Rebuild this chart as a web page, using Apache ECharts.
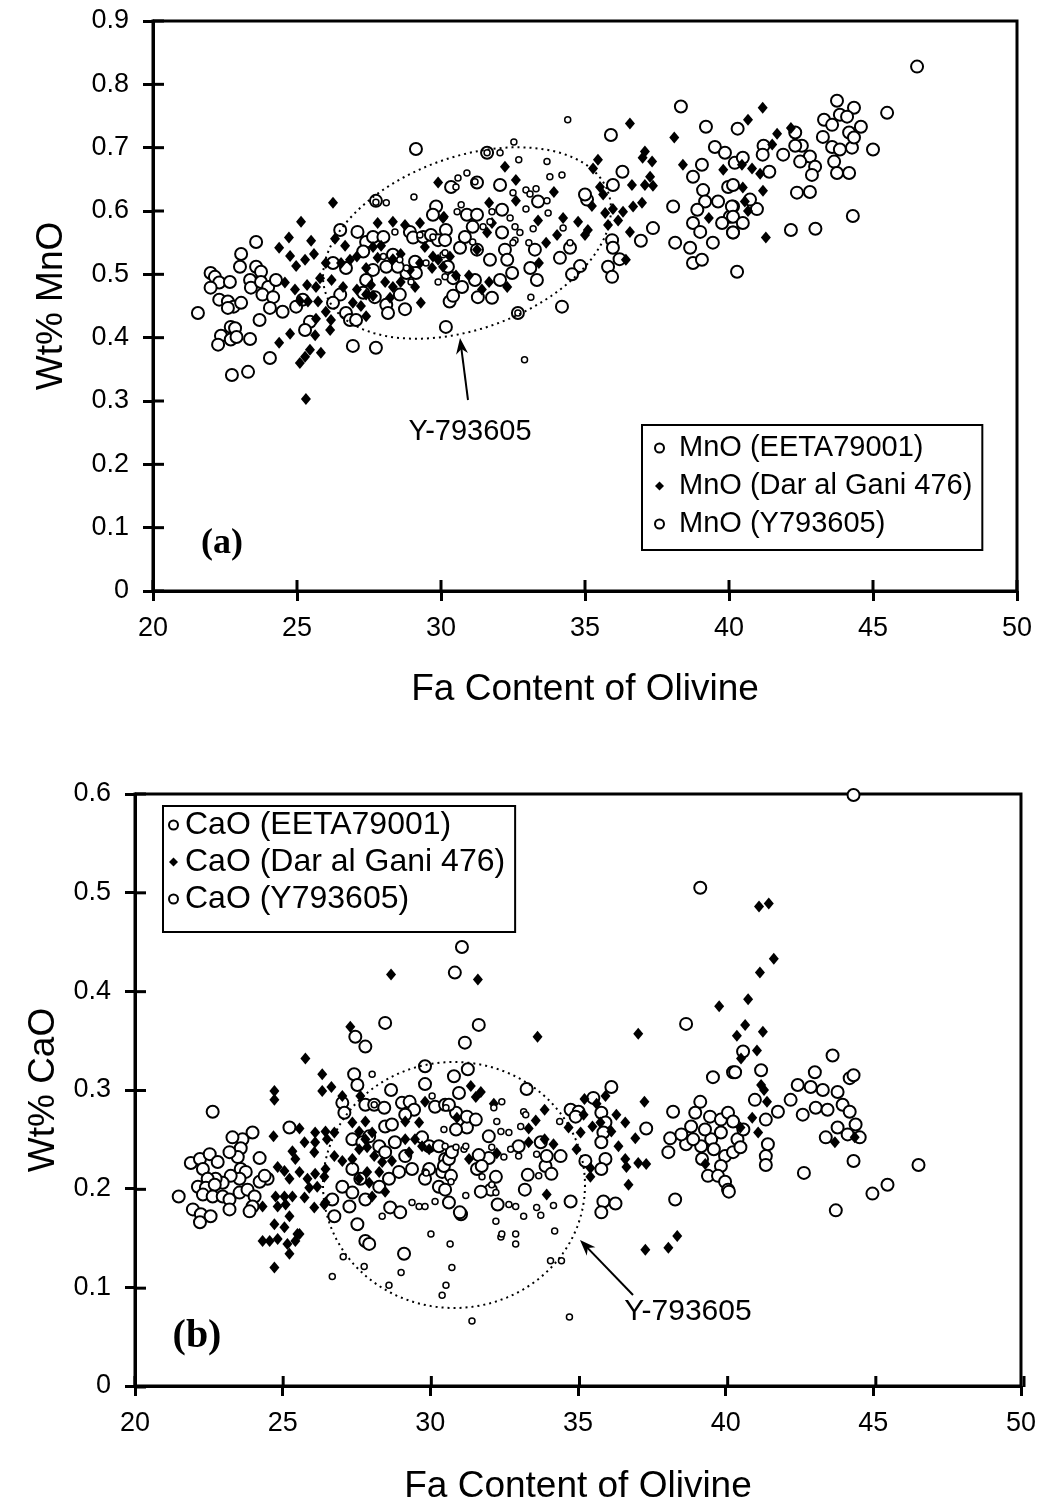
<!DOCTYPE html>
<html>
<head>
<meta charset="utf-8">
<script src="https://cdn.jsdelivr.net/npm/echarts@6/dist/echarts.min.js"></script>
<style>html,body{margin:0;padding:0;background:#fff}#c{width:1039px;height:1506px}</style>
</head>
<body>
<div id="c"></div>
<script>
// ---------- DATA (Fa content, wt%) ----------
const xTicks = { min: 20, max: 50, interval: 5 };
const yTicksMnO = { min: 0, max: 0.9, interval: 0.1 };
const yTicksCaO = { min: 0, max: 0.6, interval: 0.1 };

const namesMnO = ['MnO (EETA79001)', 'MnO (Dar al Gani 476)', 'MnO (Y793605)'];
const namesCaO = ['CaO (EETA79001)', 'CaO (Dar al Gani 476)', 'CaO (Y793605)'];

const mnoEETA = [
[29.13,0.698],[23.58,0.551],[23.06,0.532],[23.02,0.512],[22.0,0.502],[22.15,0.496],[22.3,0.487],[22.67,0.488],[22.0,0.479],[22.3,0.46],[22.6,0.457],[22.8,0.449],[23.06,0.455],[22.6,0.447],[23.37,0.491],[23.58,0.512],[23.75,0.504],[23.4,0.479],[23.75,0.488],[24.0,0.48],[24.27,0.491],[23.8,0.468],[24.17,0.464],[24.06,0.447],[24.5,0.441],[23.7,0.428],[22.7,0.417],[22.85,0.415],[22.36,0.403],[22.26,0.389],[22.7,0.397],[22.9,0.401],[23.37,0.398],[21.56,0.439],[24.06,0.368],[23.3,0.346],[22.74,0.341],[26.5,0.570],[27.1,0.567],[27.74,0.616],[26.94,0.387],[27.74,0.384],[28.75,0.445],[30.17,0.417],[30.35,0.638],[29.83,0.607],
[27.4,0.551],[27.64,0.559],[28.0,0.559],[27.3,0.536],[27.64,0.507],[28.1,0.512],[27.4,0.491],[27.3,0.471],[27.7,0.464],[28.1,0.452],[28.57,0.468],[28.16,0.439],[28.92,0.567],[29.03,0.558],[29.38,0.559],[29.65,0.562],[29.9,0.554],[29.72,0.594],[30.17,0.570],[29.1,0.520],[28.8,0.502],[29.13,0.502],[28.33,0.531],[28.5,0.512],[30.24,0.512],[30.3,0.457],[26.7,0.439],[26.84,0.428],[27.05,0.428],[26.5,0.468],[26.25,0.455],[25.2,0.46],[24.97,0.449],[25.45,0.425],[25.28,0.412],[26.7,0.51],[26.25,0.518],
[38.33,0.765],[35.9,0.720],[39.2,0.733],[40.3,0.730],[36.3,0.662],[35.97,0.641],[35.07,0.618],[37.36,0.573],[36.94,0.553],[35.94,0.554],[35.97,0.542],[35.8,0.512],[35.94,0.496],[36.2,0.524],[34.83,0.513],[34.55,0.50],[34.13,0.526],[34.48,0.542],[33.26,0.539],[33.1,0.51],[33.33,0.491],[32.47,0.502],[32.05,0.491],[31.77,0.463],[31.28,0.464],[30.42,0.466],[32.67,0.439],[31.6,0.692],[32.05,0.641],[31.25,0.645],[32.12,0.602],[32.12,0.566],[32.22,0.539],[32.3,0.523],[31.7,0.523],[31.25,0.539],[30.66,0.542],[30.83,0.559],[30.9,0.594],[31.25,0.594],[31.1,0.575],[30.14,0.554],[30.42,0.494],[30.73,0.48],[31.18,0.491],[33.37,0.615],[34.2,0.449],[35.0,0.626],
[38.75,0.654],[39.06,0.673],[39.51,0.701],[39.86,0.692],[39.1,0.633],[39.17,0.615],[38.9,0.602],[38.75,0.581],[39.0,0.567],[38.65,0.542],[38.75,0.518],[39.06,0.523],[39.44,0.55],[39.62,0.615],[39.97,0.638],[40.14,0.607],[40.03,0.591],[39.76,0.581],[40.14,0.566],[38.06,0.607],[38.13,0.55],[40.28,0.504],
[46.53,0.828],[43.75,0.774],[44.34,0.763],[45.49,0.755],[43.3,0.744],[43.58,0.736],[43.85,0.752],[44.1,0.749],[44.58,0.733],[43.26,0.717],[43.58,0.701],[43.85,0.697],[44.17,0.724],[44.27,0.7],[44.34,0.716],[43.65,0.678],[43.75,0.66],[44.17,0.66],[45.0,0.697],[44.3,0.592],[42.81,0.686],[42.47,0.678],[42.53,0.703],[42.3,0.703],[42.99,0.67],[42.88,0.657],[42.36,0.629],[42.81,0.630],[42.15,0.570],[43.0,0.572],[41.2,0.703],[41.17,0.689],[41.4,0.662],[41.88,0.689],[40.2,0.676],[40.48,0.684],[40.14,0.641],[40.1,0.607],[40.14,0.591],[40.14,0.566],[40.48,0.581],[40.97,0.603],[40.73,0.618],[42.3,0.724]
];

const mnoDaG = [
[26.25,0.613],[25.14,0.583],[24.72,0.558],[25.49,0.553],[24.38,0.542],[24.76,0.529],[25.28,0.523],[25.59,0.532],[24.97,0.513],[24.58,0.487],[24.93,0.476],[25.35,0.483],[25.1,0.458],[25.38,0.457],[25.73,0.457],[26.0,0.518],[25.8,0.494],[25.66,0.48],[26.2,0.491],[26.32,0.556],[26.53,0.518],[26.67,0.545],[26.84,0.523],[26.6,0.480],[27.08,0.476],[27.4,0.468],[26.94,0.455],[27.22,0.450],[27.4,0.434],[26.0,0.441],[26.18,0.428],[25.66,0.430],[24.76,0.406],[25.63,0.404],[24.38,0.392],[25.45,0.381],[25.83,0.376],[25.28,0.370],[25.1,0.360],[25.31,0.303],[26.15,0.412],[27.08,0.528],[27.4,0.51],[27.8,0.581],[28.33,0.583],[28.75,0.578],[27.64,0.543],[27.92,0.545],[28.33,0.524],[28.6,0.532],[27.8,0.526],[27.57,0.483],[28.06,0.488],[28.33,0.48],[27.64,0.466],[28.23,0.463],[29.27,0.581],[29.44,0.543],[29.72,0.528],[29.27,0.518],[28.92,0.507],[28.6,0.488],[29.1,0.480],[29.3,0.455],[29.9,0.645],[30.1,0.591],[29.69,0.510],[29.9,0.523],[30.07,0.512],[30.31,0.528],
[36.56,0.738],[38.1,0.716],[38.4,0.673],[35.45,0.681],[35.28,0.667],[37.08,0.694],[37.33,0.678],[37.0,0.684],[37.26,0.654],[37.08,0.641],[37.36,0.64],[36.63,0.641],[36.98,0.613],[36.67,0.607],[35.52,0.638],[35.63,0.626],[35.24,0.608],[35.7,0.597],[35.97,0.603],[36.32,0.599],[36.15,0.585],[35.8,0.578],[36.56,0.567],[36.42,0.523],[35.1,0.570],[35.0,0.562],[34.76,0.583],[34.24,0.589],[34.03,0.562],[33.65,0.55],[33.37,0.585],[33.4,0.518],[33.92,0.63],[32.6,0.649],[32.6,0.616],[32.22,0.67],[31.67,0.613],[31.77,0.581],[31.6,0.566],[31.25,0.539],[30.52,0.498],[30.97,0.498],[31.67,0.488],[32.3,0.48],[31.42,0.476],[30.07,0.589],[39.8,0.665],[39.3,0.589],
[41.17,0.763],[40.66,0.744],[42.15,0.731],[41.67,0.722],[41.5,0.705],[40.45,0.673],[40.8,0.667],[41.08,0.659],[40.48,0.637],[41.18,0.632],[40.55,0.615],[40.66,0.600],[41.28,0.558]
];

const mnoY = [
[34.4,0.744],[32.53,0.709],[32.05,0.692],[32.7,0.681],[33.68,0.678],[33.78,0.654],[34.2,0.657],[30.9,0.66],[30.59,0.652],[30.52,0.638],[31.18,0.646],[32.5,0.629],[32.95,0.633],[33.09,0.627],[33.3,0.635],[33.68,0.616],[33.72,0.597],[32.95,0.603],[30.7,0.61],[30.56,0.599],[31.77,0.599],[31.46,0.575],[31.7,0.583],[32.4,0.589],[32.57,0.575],[32.74,0.566],[32.57,0.554],[32.5,0.55],[33.2,0.572],[33.05,0.55],[34.24,0.573],[34.48,0.55],[33.12,0.464],[32.9,0.365],[30.07,0.531],[30.14,0.496],[31.1,0.551],
[29.06,0.622],[28.1,0.613],[29.9,0.488],[30.14,0.534],[28.4,0.567],[29.27,0.562],[29.72,0.559],[28.0,0.528],[28.57,0.523],[29.48,0.518],[28.96,0.488],[28.8,0.510],[31.6,0.692],[32.67,0.439],[27.74,0.614]
];

const caoEETA = [
[28.47,0.368],[27.46,0.354],[27.8,0.344],[27.42,0.316],[27.53,0.305],[28.67,0.300],[29.82,0.324],[29.82,0.306],[22.63,0.278],[27.02,0.287],[27.09,0.277],[27.8,0.285],[28.1,0.285],[28.44,0.282],[29.04,0.287],[29.3,0.288],[29.45,0.280],[29.15,0.275],[30.16,0.283],[30.5,0.285],[23.98,0.257],[23.64,0.250],[23.3,0.252],[23.58,0.241],[23.48,0.232],[21.89,0.226],[22.2,0.230],[22.53,0.235],[22.8,0.227],[22.3,0.220],[23.2,0.237],[24.22,0.231],[23.58,0.220],[23.75,0.217],[23.54,0.210],[23.24,0.213],[22.97,0.206],[22.73,0.210],[22.46,0.210],[22.13,0.202],[22.4,0.201],[22.7,0.204],[22.3,0.194],[22.63,0.192],[22.97,0.192],[23.2,0.189],[23.54,0.196],[23.81,0.199],[24.05,0.192],[21.48,0.192],[21.96,0.179],[22.23,0.174],[22.56,0.172],[23.2,0.179],[23.98,0.182],[23.88,0.177],[22.2,0.166],[24.49,0.210],[25.23,0.262],[26.68,0.189],[26.75,0.172],[27.26,0.182],[27.53,0.164],[27.8,0.147],[27.93,0.144],[28.64,0.181],[28.98,0.176],[29.11,0.134],
[27.36,0.250],[27.7,0.247],[27.93,0.253],[28.47,0.263],[28.7,0.265],[28.27,0.243],[28.47,0.237],[28.8,0.247],[29.15,0.233],[29.38,0.220],[28.94,0.217],[27.36,0.220],[27.63,0.210],[27.02,0.202],[27.36,0.196],[27.8,0.189],[28.27,0.202],[28.6,0.210],[29.82,0.210],[29.72,0.252],[29.96,0.243],[30.29,0.243],[30.5,0.230],[30.4,0.217],[29.96,0.220],[30.29,0.202],[30.5,0.199],[30.63,0.186],[24.22,0.207],[24.39,0.213],[31.04,0.174],
[31.07,0.445],[30.83,0.419],[31.64,0.366],[31.17,0.348],[38.66,0.367],[31.27,0.321],[30.8,0.314],[33.26,0.301],[36.13,0.303],[39.57,0.313],[40.25,0.318],[38.22,0.278],[34.75,0.280],[35.02,0.278],[35.52,0.292],[35.79,0.277],[35.93,0.267],[35.86,0.257],[35.79,0.247],[37.31,0.261],[38.12,0.251],[38.06,0.237],[34.92,0.273],[35.25,0.228],[35.93,0.230],[35.79,0.220],[34.75,0.187],[35.86,0.187],[36.27,0.185],[35.79,0.176],[38.29,0.189],[34.41,0.233],[33.9,0.223],[34.1,0.215],[33.3,0.214],[33.2,0.199],[31.0,0.176],[32.28,0.184],[32.05,0.199],[31.71,0.197],[32.22,0.212],[31.98,0.231],[31.64,0.234],[31.58,0.220],[31.74,0.223],[31.98,0.253],[31.24,0.262],[30.87,0.260],[30.87,0.277],[31.24,0.273],[31.54,0.270],[30.97,0.297],[30.63,0.285],[30.46,0.223],[30.63,0.230],[30.73,0.237],[30.7,0.213],[32.99,0.243],[33.74,0.247],[33.94,0.233],
[39.14,0.288],[38.97,0.277],[39.47,0.273],[39.84,0.270],[40.08,0.277],[40.25,0.268],[38.83,0.263],[38.66,0.245],[39.17,0.243],[39.51,0.250],[39.84,0.257],[39.98,0.233],[40.25,0.237],[39.84,0.223],[39.4,0.213],[39.74,0.213],[39.98,0.207],[40.08,0.199],
[38.9,0.250],[39.3,0.260],[39.6,0.240],[40.4,0.250],[40.6,0.260],[40.5,0.242],[39.2,0.230],[38.5,0.255],
[40.11,0.197],[43.73,0.178],[44.97,0.195],[45.48,0.204],[46.53,0.224],[42.65,0.216],[44.33,0.228],[41.36,0.233],[41.36,0.224],
[44.33,0.599],[40.59,0.339],[40.32,0.318],[41.2,0.320],[43.62,0.335],[43.02,0.318],[44.2,0.312],[44.33,0.315],[42.44,0.305],[42.88,0.303],[43.29,0.300],[43.79,0.298],
[41.36,0.270],[41.77,0.278],[42.2,0.290],[42.61,0.275],[43.05,0.282],[43.45,0.280],[43.96,0.285],[44.2,0.278],[44.4,0.265],[44.54,0.252],[44.13,0.255],[43.39,0.252],[43.79,0.262],[41.43,0.245],[40.99,0.290],[39.14,0.505]
];

const caoDaG = [
[28.67,0.417],[27.29,0.364],[25.77,0.332],[26.34,0.316],[26.34,0.299],[26.65,0.303],[24.72,0.299],[24.72,0.290],[27.02,0.294],[27.63,0.294],[24.69,0.253],[29.82,0.288],[27.36,0.267],[27.8,0.268],[27.59,0.258],[28.03,0.257],[27.8,0.250],[25.57,0.261],[26.1,0.257],[26.45,0.258],[26.75,0.257],[25.74,0.247],[26.1,0.247],[26.5,0.250],[25.33,0.238],[26.07,0.237],[24.83,0.222],[25.06,0.218],[25.43,0.230],[25.23,0.210],[25.57,0.217],[25.84,0.210],[26.1,0.215],[26.41,0.212],[25.9,0.201],[26.17,0.202],[26.45,0.220],[24.76,0.192],[25.06,0.192],[25.33,0.192],[25.74,0.191],[26.07,0.181],[26.41,0.184],[24.32,0.182],[24.83,0.182],[25.1,0.184],[24.72,0.164],[25.06,0.161],[25.23,0.172],[25.57,0.154],[24.32,0.147],[24.56,0.147],[24.83,0.149],[25.16,0.144],[25.43,0.147],[25.23,0.134],[26.75,0.233],[27.02,0.228],[27.36,0.230],[27.59,0.240],[27.86,0.242],[28.1,0.233],[28.37,0.227],[28.7,0.228],[27.86,0.217],[28.27,0.217],[27.59,0.210],[27.93,0.206],[28.47,0.197],[28.03,0.192],[29.15,0.268],[29.62,0.267],[29.15,0.250],[29.48,0.250],[29.28,0.237],[29.72,0.243],[29.96,0.240],[26.45,0.186],
[24.72,0.120],[25.5,0.154],
[31.61,0.412],[33.63,0.354],[37.04,0.357],[39.78,0.385],[37.25,0.288],[31.37,0.304],[31.71,0.298],[31.54,0.293],[32.15,0.286],[30.9,0.272],[33.87,0.280],[33.57,0.269],[33.33,0.261],[33.87,0.250],[34.17,0.245],[33.33,0.247],[32.25,0.236],[31.31,0.230],[33.94,0.194],[35.22,0.291],[35.63,0.286],[35.93,0.294],[35.19,0.275],[35.49,0.263],[35.76,0.267],[36.13,0.258],[36.6,0.267],[36.3,0.275],[34.68,0.262],[35.09,0.257],[36.94,0.251],[36.37,0.243],[36.6,0.230],[36.64,0.222],[37.04,0.226],[37.31,0.225],[35.42,0.221],[35.42,0.212],[36.71,0.204],[34.95,0.240],[39.31,0.225],[37.28,0.138],[38.06,0.140],[38.36,0.152],
[41.13,0.486],[41.46,0.489],[41.63,0.433],[41.16,0.419],[40.76,0.392],[40.38,0.355],[40.66,0.366],[41.26,0.359],[41.06,0.340],[40.52,0.332],
[40.5,0.262],[41.1,0.257],[41.4,0.288],[40.9,0.272],[41.3,0.300],[43.7,0.247],[44.37,0.252],[41.2,0.305]
];

const caoY = [
[28.03,0.316],[28.1,0.285],[30.06,0.294],[29.82,0.217],[30.16,0.187],[29.38,0.186],[29.62,0.182],[29.82,0.182],[28.37,0.172],[30.02,0.154],[30.67,0.144],[30.46,0.260],[30.5,0.243],
[30.73,0.120],[30.53,0.102],[30.4,0.092],[29.01,0.115],[28.6,0.102],[27.76,0.121],[27.05,0.131],[26.68,0.111],[31.41,0.066],[31.2,0.193],[32.39,0.151],[32.42,0.154],[32.89,0.154],[32.89,0.144],[32.22,0.167],[32.66,0.184],[32.89,0.182],[31.75,0.212],[32.08,0.204],[29.86,0.216],
[34.21,0.157],[34.07,0.127],[34.44,0.127],[34.71,0.070],[33.6,0.181],[33.74,0.173],[33.16,0.172],[34.17,0.183],
[32.42,0.288],[32.15,0.282],[32.39,0.258],[32.66,0.257],[33.06,0.263],[33.16,0.278],[33.23,0.275],[32.25,0.268],[32.08,0.242],[32.72,0.240],[32.99,0.233],[32.49,0.232],[33.6,0.235],[33.67,0.213],[32.22,0.196],[34.38,0.268],[30.53,0.282],[30.87,0.242],[31.14,0.240],[30.7,0.207],[31.2,0.243]
];

// ---------- CHART ----------
const FONT = "'Liberation Sans', Arial, Helvetica, sans-serif";
const SERIF = "'Liberation Serif', 'Times New Roman', serif";
const W = 1039, H = 1506;
const GA = { left: 153, right: 22, top: 21, bottom: 915 };
const GB = { left: 135, right: 15, top: 794, bottom: 119 };
const chart = echarts.init(document.getElementById('c'), null, { renderer: 'canvas', width: W, height: H });

function mkX(gi, gap) {
  return {
    type: 'value', gridIndex: gi, position: 'bottom',
    min: xTicks.min, max: xTicks.max, interval: xTicks.interval,
    axisLine: { show: true, onZero: false, lineStyle: { color: '#000', width: 3 } },
    axisTick: { show: true, inside: false, length: 10, lineStyle: { color: '#000', width: 3 } },
    axisLabel: { show: true, color: '#000', fontSize: 27, fontFamily: FONT, margin: 24 },
    splitLine: { show: false },
    name: 'Fa Content of Olivine', nameLocation: 'middle', nameGap: gap,
    nameTextStyle: { color: '#000', fontSize: 37, fontFamily: FONT }
  };
}
function mkY(gi, t, name, gap) {
  return {
    type: 'value', gridIndex: gi, position: 'left',
    min: t.min, max: t.max, interval: t.interval,
    axisLine: { show: true, onZero: false, lineStyle: { color: '#000', width: 3 } },
    axisTick: { show: true, inside: false, length: 10, lineStyle: { color: '#000', width: 3 } },
    axisLabel: { show: true, color: '#000', fontSize: 27, fontFamily: FONT, margin: 24 },
    splitLine: { show: false },
    name, nameLocation: 'middle', nameGap: gap,
    nameTextStyle: { color: '#000', fontSize: 37, fontFamily: FONT }
  };
}
function sOpen(name, data, xi, yi) {
  return { type: 'scatter', name, data, xAxisIndex: xi, yAxisIndex: yi, symbol: 'circle', symbolSize: 12, z: 2,
    itemStyle: { color: '#fff', borderColor: '#000', borderWidth: 2, opacity: 1 }, emphasis: { disabled: true } };
}
function sDia(name, data, xi, yi) {
  return { type: 'scatter', name, data, xAxisIndex: xi, yAxisIndex: yi, symbol: 'diamond', symbolSize: [10, 12], z: 3,
    itemStyle: { color: '#000', opacity: 1 }, emphasis: { disabled: true } };
}
function sSmall(name, data, xi, yi) {
  return { type: 'scatter', name, data, xAxisIndex: xi, yAxisIndex: yi, symbol: 'circle', symbolSize: 6, z: 4,
    itemStyle: { color: '#fff', borderColor: '#000', borderWidth: 1.5, opacity: 1 }, emphasis: { disabled: true } };
}

function ellipsePts(cx, cy, rx, ry, deg) {
  const a = deg * Math.PI / 180, pts = [];
  for (let i = 0; i <= 180; i++) {
    const t = i / 180 * 2 * Math.PI;
    const ex = rx * Math.cos(t), ey = ry * Math.sin(t);
    pts.push([cx + ex * Math.cos(a) + ey * Math.sin(a), cy - ex * Math.sin(a) + ey * Math.cos(a)]);
  }
  return pts;
}
function arrow(x1, y1, x2, y2) {
  const L = Math.hypot(x2 - x1, y2 - y1), dx = (x2 - x1) / L, dy = (y2 - y1) / L;
  const len = 16, w = 12, nx = -dy, ny = dx;
  const bx = x2 - dx * len, by = y2 - dy * len;
  return [
    { type: 'line', shape: { x1, y1, x2: x2 - dx * 6, y2: y2 - dy * 6 }, style: { stroke: '#000', lineWidth: 2 }, z: 10 },
    { type: 'polygon', shape: { points: [[x2, y2], [bx + nx * w / 2, by + ny * w / 2], [x2 - dx * len * 0.7, y2 - dy * len * 0.7], [bx - nx * w / 2, by - ny * w / 2]] },
      style: { fill: '#000' }, z: 10 }
  ];
}
// Inner half of the crossing tick marks (axis decoration), drawn as filled bars from the grid layout.
function innerTicks(g, yt) {
  const left = g.left, right = W - g.right, top = g.top, bottom = H - g.bottom;
  const els = [];
  const nx = Math.round((xTicks.max - xTicks.min) / xTicks.interval);
  for (let i = 0; i <= nx; i++) {
    const px = left + (right - left) * i / nx;
    els.push({ type: 'rect', shape: { x: px - 1.5, y: bottom - 11, width: 3, height: 11 }, style: { fill: '#000' }, z: 11, silent: true });
  }
  const ny = Math.round((yt.max - yt.min) / yt.interval);
  for (let i = 0; i <= ny; i++) {
    const py = bottom - (bottom - top) * i / ny;
    els.push({ type: 'rect', shape: { x: left, y: py - 1.5, width: 11, height: 3 }, style: { fill: '#000' }, z: 11, silent: true });
  }
  return els;
}

const legendBase = {
  orient: 'vertical', itemWidth: 9, itemHeight: 9, selectedMode: false,
  borderColor: '#000', borderWidth: 2, backgroundColor: '#fff', z: 20
};

const graphicEls = [
  { type: 'polygon', shape: { points: ellipsePts(467, 243, 150, 86, 20) }, style: { fill: null, stroke: '#000', lineWidth: 2, lineDash: [2, 4] }, z: 9, silent: true },
  { type: 'polygon', shape: { points: ellipsePts(454, 1185, 131, 123, 0) }, style: { fill: null, stroke: '#000', lineWidth: 2, lineDash: [2, 4] }, z: 9, silent: true },
  ...arrow(468, 400, 460, 338),
  ...arrow(633, 1295, 580, 1240),
  { type: 'text', x: 470, y: 432, style: { text: 'Y-793605', font: '29px ' + FONT, fill: '#000', textAlign: 'center', textVerticalAlign: 'middle' }, z: 10 },
  { type: 'text', x: 688, y: 1312, style: { text: 'Y-793605', font: '30px ' + FONT, fill: '#000', textAlign: 'center', textVerticalAlign: 'middle' }, z: 10 },
  { type: 'text', x: 222, y: 544, style: { text: '(a)', font: 'bold 36px ' + SERIF, fill: '#000', textAlign: 'center', textVerticalAlign: 'middle' }, z: 10 },
  { type: 'text', x: 197, y: 1337, style: { text: '(b)', font: 'bold 40px ' + SERIF, fill: '#000', textAlign: 'center', textVerticalAlign: 'middle' }, z: 10 },
  ...innerTicks(GA, yTicksMnO),
  ...innerTicks(GB, yTicksCaO)
];

const option = {
  animation: false,
  backgroundColor: '#fff',
  grid: [
    Object.assign({ show: true, borderColor: '#000', borderWidth: 3, backgroundColor: 'transparent' }, GA),
    Object.assign({ show: true, borderColor: '#000', borderWidth: 3, backgroundColor: 'transparent' }, GB)
  ],
  xAxis: [mkX(0, 80), mkX(1, 82)],
  yAxis: [mkY(0, yTicksMnO, 'Wt% MnO', 83), mkY(1, yTicksCaO, 'Wt% CaO', 66)],
  legend: [
    Object.assign({}, legendBase, {
      data: namesMnO, left: 642, top: 425, itemGap: 4, padding: [6, 10, 9, 12],
      textStyle: { fontSize: 29, fontFamily: FONT, color: '#000', lineHeight: 34, padding: [0, 0, 0, 10] }
    }),
    Object.assign({}, legendBase, {
      data: namesCaO, left: 163, top: 806, itemGap: 3, padding: [2, 10, 16, 5],
      textStyle: { fontSize: 32, fontFamily: FONT, color: '#000', lineHeight: 34, padding: [0, 0, 0, 2] }
    })
  ],
  series: [
    sOpen(namesMnO[0], mnoEETA, 0, 0), sDia(namesMnO[1], mnoDaG, 0, 0), sSmall(namesMnO[2], mnoY, 0, 0),
    sOpen(namesCaO[0], caoEETA, 1, 1), sDia(namesCaO[1], caoDaG, 1, 1), sSmall(namesCaO[2], caoY, 1, 1)
  ],
  graphic: { elements: graphicEls }
};
chart.setOption(option);
</script>
</body>
</html>
